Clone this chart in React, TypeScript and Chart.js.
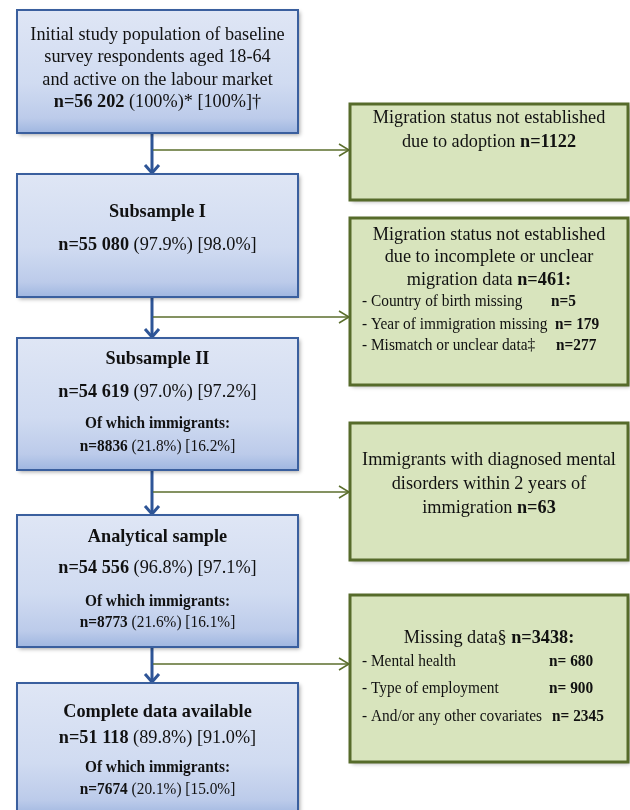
import React, { useEffect, useRef } from "react";
import { Chart, registerables } from "chart.js";

Chart.register(...registerables);

// ---- Data ----
const stageTitles = [
  "Initial study population of baseline|survey respondents aged 18-64|and active on the labour market",
  "Subsample I",
  "Subsample II",
  "Analytical sample",
  "Complete data available",
];
const stageN = [56202, 55080, 54619, 54556, 51118];
const stagePctStar = ["100%", "97.9%", "97.0%", "96.8%", "89.8%"];
const stagePctDagger = ["100%", "98.0%", "97.2%", "97.1%", "91.0%"];
const immigrantN: (number | null)[] = [null, null, 8836, 8773, 7674];
const immigrantPctStar: (string | null)[] = [null, null, "21.8%", "21.6%", "20.1%"];
const immigrantPctDagger: (string | null)[] = [null, null, "16.2%", "16.1%", "15.0%"];

const exclusionTitles = [
  "Migration status not established|due to adoption",
  "Migration status not established|due to incomplete or unclear|migration data",
  "Immigrants with diagnosed mental|disorders within 2 years of|immigration",
  "Missing data§",
];
const exclusionN = [1122, 461, 63, 3438];
const exclusionColon = ["", ":", "", ":"];
const migrationItems = ["Country of birth missing", "Year of immigration missing", "Mismatch or unclear data‡"];
const migrationItemN = [5, 179, 277];
const migrationItemSep = ["=", "= ", "="];
const missingItems = ["Mental health", "Type of employment", "And/or any other covariates"];
const missingItemN = [680, 900, 2345];

// ---- Layout (pixels in a 630x810 value space) ----
const MAIN_X0 = 17, MAIN_X1 = 298, STEM_X = 152;
const mainBoxes = [
  [10, 133], [174, 297], [338, 470], [515, 647], [683, 816],
];
const SIDE_X0 = 350, SIDE_X1 = 628;
const sideBoxes = [
  [104, 200], [218, 385], [423, 560], [595, 762],
];
const branchY = [150, 317, 492, 664];

const fmt = (n: number) => String(n).replace(/\B(?=(\d{3})+(?!\d))/g, " ");
const FONT = '"Liberation Serif", "Times New Roman", serif';
const CONDENSE = 0.96;

type Seg = { t: string; b?: boolean };

function drawSegs(ctx: CanvasRenderingContext2D, segs: Seg[], x: number, y: number, size: number, align: "center" | "left") {
  const widths = segs.map((s) => {
    ctx.font = `${s.b ? "bold " : ""}${size}px ${FONT}`;
    return ctx.measureText(s.t).width;
  });
  const total = widths.reduce((a, b) => a + b, 0);
  ctx.save();
  ctx.translate(x, y);
  ctx.scale(CONDENSE, 1);
  let cx = align === "center" ? -total / 2 : 0;
  ctx.textAlign = "left";
  ctx.textBaseline = "middle";
  ctx.fillStyle = "#111";
  segs.forEach((s, i) => {
    ctx.font = `${s.b ? "bold " : ""}${size}px ${FONT}`;
    ctx.fillText(s.t, cx, 0);
    cx += widths[i];
  });
  ctx.restore();
}

const flowPlugin = {
  id: "flow",
  afterDraw(chart: any) {
    const ctx: CanvasRenderingContext2D = chart.ctx;
    const xs = chart.scales.x, ys = chart.scales.y;
    const X = (v: number) => xs.getPixelForValue(v);
    const Y = (v: number) => ys.getPixelForValue(v);
    ctx.save();

    // main vertical arrows
    ctx.strokeStyle = "#2e5597";
    ctx.lineWidth = 3;
    for (let i = 0; i < mainBoxes.length - 1; i++) {
      const y0 = Y(mainBoxes[i][1]), y1 = Y(mainBoxes[i + 1][0]) - 1;
      ctx.beginPath();
      ctx.moveTo(X(STEM_X), y0);
      ctx.lineTo(X(STEM_X), y1);
      ctx.stroke();
      ctx.beginPath();
      ctx.moveTo(X(STEM_X) - 7, y1 - 8);
      ctx.lineTo(X(STEM_X), y1);
      ctx.lineTo(X(STEM_X) + 7, y1 - 8);
      ctx.stroke();
    }
    // branch arrows
    ctx.strokeStyle = "#5b6e2c";
    ctx.lineWidth = 1.5;
    branchY.forEach((by) => {
      const y = Y(by);
      const xe = X(SIDE_X0) - 1;
      ctx.beginPath();
      ctx.moveTo(X(STEM_X) + 1, y);
      ctx.lineTo(xe, y);
      ctx.stroke();
      ctx.beginPath();
      ctx.moveTo(xe - 10, y - 6);
      ctx.lineTo(xe, y);
      ctx.lineTo(xe - 10, y + 6);
      ctx.stroke();
    });

    // main boxes
    mainBoxes.forEach(([t, b]) => {
      const x0 = X(MAIN_X0), x1 = X(MAIN_X1), y0 = Y(t), y1 = Y(b);
      const g = ctx.createLinearGradient(0, y0, 0, y1);
      g.addColorStop(0, "#dfe6f5");
      g.addColorStop(0.6, "#d0dbf1");
      g.addColorStop(0.88, "#bccbea");
      g.addColorStop(1, "#9fb6e0");
      ctx.save();
      ctx.shadowColor = "rgba(0,0,0,0.35)";
      ctx.shadowBlur = 4;
      ctx.shadowOffsetX = 2;
      ctx.shadowOffsetY = 2;
      ctx.fillStyle = g;
      ctx.fillRect(x0, y0, x1 - x0, y1 - y0);
      ctx.restore();
      ctx.strokeStyle = "#3a5f9e";
      ctx.lineWidth = 2;
      ctx.strokeRect(x0, y0, x1 - x0, y1 - y0);
    });

    // side boxes
    sideBoxes.forEach(([t, b]) => {
      const x0 = X(SIDE_X0), x1 = X(SIDE_X1), y0 = Y(t), y1 = Y(b);
      ctx.save();
      ctx.shadowColor = "rgba(0,0,0,0.3)";
      ctx.shadowBlur = 4;
      ctx.shadowOffsetX = 2;
      ctx.shadowOffsetY = 2;
      ctx.fillStyle = "#d8e4bd";
      ctx.fillRect(x0, y0, x1 - x0, y1 - y0);
      ctx.restore();
      ctx.strokeStyle = "#566b2a";
      ctx.lineWidth = 3;
      ctx.strokeRect(x0, y0, x1 - x0, y1 - y0);
    });

    // main text
    const mc = X((MAIN_X0 + MAIN_X1) / 2);
    const l0 = stageTitles[0].split("|");
    const y0s = [35, 57, 80];
    l0.forEach((l, i) => drawSegs(ctx, [{ t: l }], mc, Y(y0s[i]), 19, "center"));
    drawSegs(ctx, [{ t: `n=${fmt(stageN[0])}`, b: true }, { t: ` (${stagePctStar[0]})* [${stagePctDagger[0]}]†` }], mc, Y(102), 19, "center");

    const titleY = [0, 212, 359, 537, 712];
    const nY = [0, 245, 392, 568, 738];
    const ofY = [0, 0, 424, 602, 768];
    const imY = [0, 0, 447, 623, 790];
    for (let i = 1; i < stageTitles.length; i++) {
      drawSegs(ctx, [{ t: stageTitles[i], b: true }], mc, Y(titleY[i]), 19, "center");
      drawSegs(ctx, [{ t: `n=${fmt(stageN[i])}`, b: true }, { t: ` (${stagePctStar[i]}) [${stagePctDagger[i]}]` }], mc, Y(nY[i]), 19, "center");
      if (immigrantN[i] != null) {
        drawSegs(ctx, [{ t: "Of which immigrants:", b: true }], mc, Y(ofY[i]), 16, "center");
        drawSegs(ctx, [{ t: `n=${immigrantN[i]}`, b: true }, { t: ` (${immigrantPctStar[i]}) [${immigrantPctDagger[i]}]` }], mc, Y(imY[i]), 16, "center");
      }
    }

    // side text
    const sc = X((SIDE_X0 + SIDE_X1) / 2);
    const sideLineY = [[118, 142], [235, 257, 280], [460, 484, 508], [638]];
    exclusionTitles.forEach((title, i) => {
      const lines = title.split("|");
      lines.forEach((l, j) => {
        const last = j === lines.length - 1;
        const segs: Seg[] = last
          ? [{ t: l + " " }, { t: `n=${exclusionN[i]}${exclusionColon[i]}`, b: true }]
          : [{ t: l }];
        drawSegs(ctx, segs, sc, Y(sideLineY[i][j]), 19, "center");
      });
    });
    const itemX = X(362);
    const migY = [302, 325, 346];
    const migNX = [551, 555, 556];
    migrationItems.forEach((it, k) => {
      drawSegs(ctx, [{ t: `- ${it}` }], itemX, Y(migY[k]), 16, "left");
      drawSegs(ctx, [{ t: `n${migrationItemSep[k]}${migrationItemN[k]}`, b: true }], X(migNX[k]), Y(migY[k]), 16, "left");
    });
    const misY = [662, 689, 717];
    const misNX = [549, 549, 552];
    missingItems.forEach((it, k) => {
      drawSegs(ctx, [{ t: `- ${it}` }], itemX, Y(misY[k]), 16, "left");
      drawSegs(ctx, [{ t: `n= ${missingItemN[k]}`, b: true }], X(misNX[k]), Y(misY[k]), 16, "left");
    });

    ctx.restore();
  },
};

export default function App() {
  const ref = useRef<HTMLCanvasElement>(null);
  useEffect(() => {
    if (!ref.current) return;
    const chart = new Chart(ref.current, {
      type: "scatter",
      data: { datasets: [{ data: [] }] },
      options: {
        responsive: false,
        animation: false,
        events: [],
        layout: { padding: 0 },
        plugins: { legend: { display: false }, tooltip: { enabled: false } },
        scales: {
          x: { type: "linear", min: 0, max: 630, display: false },
          y: { type: "linear", min: 0, max: 810, reverse: true, display: false },
        },
      },
      plugins: [flowPlugin],
    });
    return () => chart.destroy();
  }, []);
  return (
    <div style={{ position: "fixed", left: 0, top: 0, width: 630, height: 810, background: "#fff" }}>
      <canvas ref={ref} width={630} height={810} style={{ display: "block" }} />
    </div>
  );
}
